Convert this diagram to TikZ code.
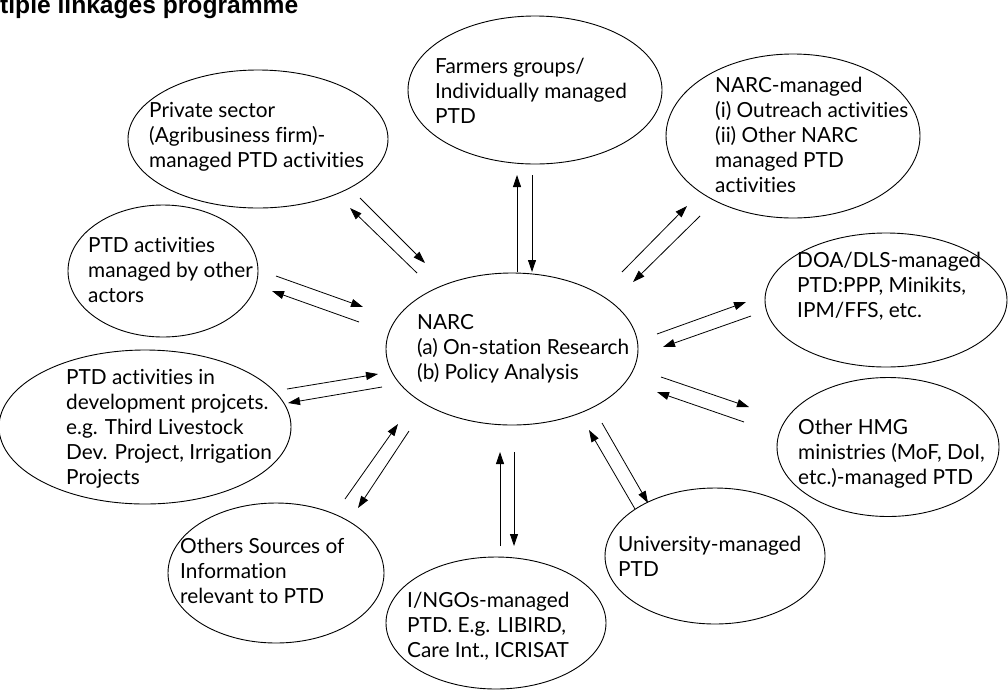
\documentclass[tikz,border=0pt]{standalone}
\usepackage{fontspec}
\setmainfont{Lato}[Ligatures={NoCommon}]
\newfontfamily\headfont{Liberation Sans}
\usetikzlibrary{shapes.geometric,arrows.meta}
\begin{document}
\begin{tikzpicture}[x=1pt,y=-1pt,
  oval/.style={draw, ellipse, line width=0.9pt, inner sep=0},
  lbl/.style={anchor=north west, align=left, inner sep=0, font=\fontsize{20.8}{25}\selectfont},
  arr/.style={line width=0.8pt, -{Triangle[length=12pt,width=8pt]}}]
\fill[white] (0,0) rectangle (1008,689);
\useasboundingbox (0,0) rectangle (1008,689);

% heading (partly cut by the page edge)
\node[anchor=base west, inner sep=0, font=\headfont\bfseries\fontsize{24.6}{29}\selectfont] (head) at (0,13) {tiple linkages programme};

% ovals
\node[oval, minimum width=252, minimum height=152] (narc) at (512,349) {};
\node[oval, minimum width=260, minimum height=138] (priv) at (258,139) {};
\node[oval, minimum width=254, minimum height=148] (farm) at (535,90) {};
\node[oval, minimum width=254, minimum height=164] (nmng) at (793,136) {};
\node[oval, minimum width=242, minimum height=134] (doa)  at (886,300) {};
\node[oval, minimum width=222, minimum height=139] (hmg)  at (888,447) {};
\node[oval, minimum width=220, minimum height=136] (univ) at (715,556) {};
\node[oval, minimum width=220, minimum height=132] (ngo)  at (496,623) {};
\node[oval, minimum width=216, minimum height=140] (oth)  at (276,573) {};
\node[oval, minimum width=292, minimum height=154] (dev)  at (145,427) {};
\node[oval, minimum width=190, minimum height=132] (act)  at (163,271) {};

% texts (top = first baseline - strut height)
\node[lbl] (narc-t) at (417,311.5) {\strut NARC\\(a) On-station Research\\(b) Policy Analysis};
\node[lbl] (priv-t) at (149,99.5) {\strut Private sector\\(Agribusiness firm)-\\managed PTD activities};
\node[lbl] (farm-t) at (435,55.5) {\strut Farmers groups/\\Individually managed\\PTD};
\node[lbl] (nmng-t) at (715,74.5) {\strut NARC-managed\\(i) Outreach activities\\(ii) Other NARC\\managed PTD\\activities};
\node[lbl] (doa-t)  at (797,249.5) {\strut DOA/DLS-managed\\PTD:PPP, Minikits,\\IPM/FFS, etc.};
\node[lbl] (hmg-t)  at (798,416.5) {\strut Other HMG\\ministries (MoF, DoI,\\etc.)-managed PTD};
\node[lbl] (univ-t) at (618,533.5) {\strut University-managed\\PTD};
\node[lbl] (ngo-t)  at (407,589.5) {\strut I/NGOs-managed\\PTD. E.g. LIBIRD,\\Care Int., ICRISAT};
\node[lbl] (oth-t)  at (180,535.5) {\strut Others Sources of\\Information\\relevant to PTD};
\node[lbl] (dev-t)  at (66,366.5) {\strut PTD activities in\\development projcets.\\e.g. Third Livestock\\Dev. Project, Irrigation\\Projects};
\node[lbl] (act-t)  at (88,234.5) {\strut PTD activities\\managed by other\\actors};

% arrow end points
\coordinate (p1a) at (360,198); \coordinate (p1b) at (425,263);
\coordinate (p2a) at (417,273); \coordinate (p2b) at (350,208);
\coordinate (f1a) at (517,272); \coordinate (f1b) at (517,175);
\coordinate (f2a) at (532,175); \coordinate (f2b) at (532,272);
\coordinate (n1a) at (622,272); \coordinate (n1b) at (687,206);
\coordinate (n2a) at (700,216); \coordinate (n2b) at (633,282);
\coordinate (d1a) at (657,334); \coordinate (d1b) at (746,302);
\coordinate (d2a) at (751,316); \coordinate (d2b) at (663,347);
\coordinate (h1a) at (661,377); \coordinate (h1b) at (749,407);
\coordinate (h2a) at (744,422); \coordinate (h2b) at (657,392);
\coordinate (u1a) at (635,509); \coordinate (u1b) at (589,430);
\coordinate (u2a) at (602,423); \coordinate (u2b) at (648,503);
\coordinate (g1a) at (500,546); \coordinate (g1b) at (500,452);
\coordinate (g2a) at (514,452); \coordinate (g2b) at (514,546);
\coordinate (o1a) at (345,499); \coordinate (o1b) at (398,424);
\coordinate (o2a) at (409,431); \coordinate (o2b) at (358,508);
\coordinate (v1a) at (287,389); \coordinate (v1b) at (378,374);
\coordinate (v2a) at (382,387); \coordinate (v2b) at (288,403);
\coordinate (a1a) at (276,276); \coordinate (a1b) at (363,307);
\coordinate (a2a) at (359,322); \coordinate (a2b) at (272,291);

% paired arrows
\draw[arr] (p1a) -- (p1b); \draw[arr] (p2a) -- (p2b);
\draw[arr] (f1a) -- (f1b); \draw[arr] (f2a) -- (f2b);
\draw[arr] (n1a) -- (n1b); \draw[arr] (n2a) -- (n2b);
\draw[arr] (d1a) -- (d1b); \draw[arr] (d2a) -- (d2b);
\draw[arr] (h1a) -- (h1b); \draw[arr] (h2a) -- (h2b);
\draw[arr] (u1a) -- (u1b); \draw[arr] (u2a) -- (u2b);
\draw[arr] (g1a) -- (g1b); \draw[arr] (g2a) -- (g2b);
\draw[arr] (o1a) -- (o1b); \draw[arr] (o2a) -- (o2b);
\draw[arr] (v1a) -- (v1b); \draw[arr] (v2a) -- (v2b);
\draw[arr] (a1a) -- (a1b); \draw[arr] (a2a) -- (a2b);
\end{tikzpicture}
\end{document}
